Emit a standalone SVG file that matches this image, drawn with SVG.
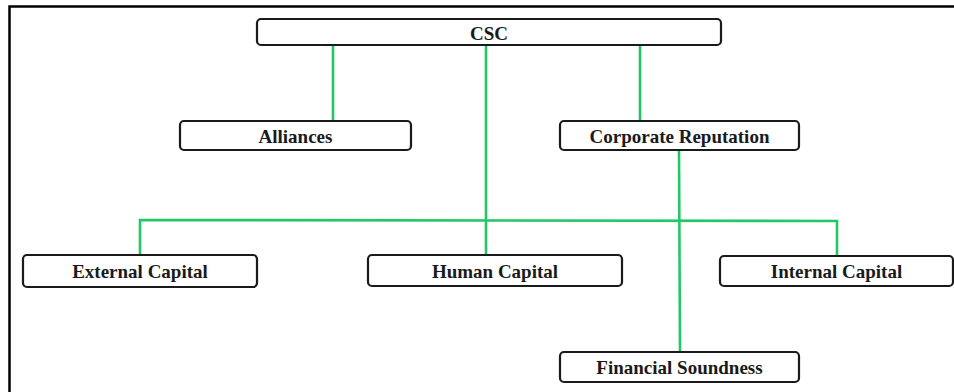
<svg xmlns="http://www.w3.org/2000/svg" width="954" height="392" viewBox="0 0 954 392">
<style>
.box{fill:#fff;stroke:#1a1a1a;stroke-width:2.2}
.lbl{font-family:"Liberation Serif","Times New Roman",serif;font-weight:bold;font-size:19px;fill:#1a1a1a;text-anchor:middle;dominant-baseline:central}
.con{stroke:#22c766;stroke-width:2.6;fill:none}
</style>
<rect x="0" y="0" width="954" height="392" fill="#fff"/>
<path d="M9.5,392 V6.5 H954" fill="none" stroke="#000" stroke-width="2.5"/>
<g id="connectors">
<line class="con" x1="333" y1="45" x2="333" y2="121"/>
<line class="con" x1="640" y1="45" x2="640" y2="121"/>
<line class="con" x1="486" y1="45" x2="486" y2="255"/>
<polyline class="con" points="140,255 140,220 837,221 837,256"/>
<line class="con" x1="679" y1="150" x2="680" y2="352"/>
</g>
<g id="csc"><rect class="box" x="257" y="19" width="464" height="26" rx="4"/><text class="lbl" x="489" y="33" font-size="20">CSC</text></g>
<g id="alliances"><rect class="box" x="180" y="121" width="231" height="29" rx="4"/><text class="lbl" x="295.5" y="136">Alliances</text></g>
<g id="corporate-reputation"><rect class="box" x="560" y="121" width="239" height="29" rx="4"/><text class="lbl" x="679.5" y="136">Corporate Reputation</text></g>
<g id="external-capital"><rect class="box" x="23" y="255" width="234" height="32" rx="4"/><text class="lbl" x="140" y="271.5">External Capital</text></g>
<g id="human-capital"><rect class="box" x="368" y="255" width="254" height="31" rx="4"/><text class="lbl" x="495" y="271">Human Capital</text></g>
<g id="internal-capital"><rect class="box" x="720" y="256" width="233" height="30" rx="4"/><text class="lbl" x="836.5" y="271.5">Internal Capital</text></g>
<g id="financial-soundness"><rect class="box" x="560" y="352" width="239" height="30" rx="4"/><text class="lbl" x="679.5" y="367.5">Financial Soundness</text></g>
</svg>
